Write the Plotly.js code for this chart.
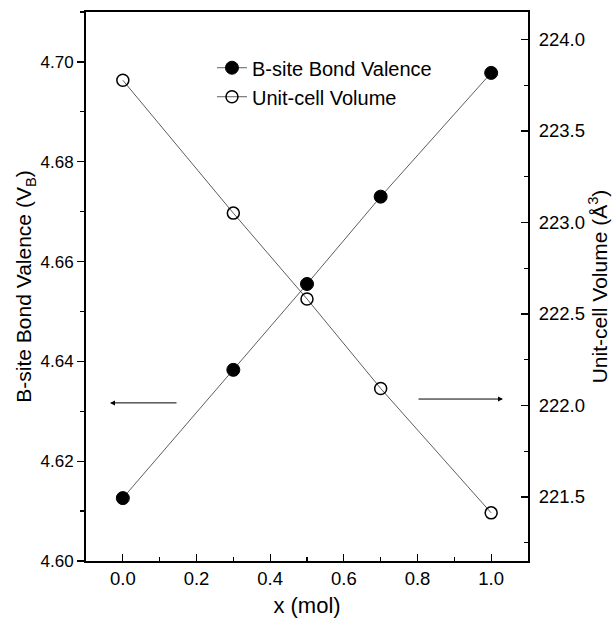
<!DOCTYPE html>
<html><head><meta charset="utf-8">
<script src="https://cdn.plot.ly/plotly-3.0.1.min.js"></script>
<style>html,body{margin:0;padding:0;background:#fff}</style>
</head><body>
<div id="chart" style="width:616px;height:618px"></div>
<script>
const xMol = [0.0, 0.3, 0.5, 0.7, 1.0];
const bondValence = [4.6126, 4.6383, 4.6555, 4.6730, 4.6978];
const cellVolume = [223.777, 223.051, 222.582, 222.093, 221.413];
const seriesNames = ["B-site Bond Valence", "Unit-cell Volume"];

const font = "Liberation Sans, Arial, sans-serif";
const traces = [
  {x: xMol, y: bondValence, name: seriesNames[0], type: "scatter", mode: "lines+markers",
   line: {color: "#333", width: 0.8},
   marker: {symbol: "circle", size: 13, color: "#000", line: {color: "#000", width: 1}}},
  {x: xMol, y: cellVolume, name: seriesNames[1], type: "scatter", mode: "lines+markers", yaxis: "y2",
   line: {color: "#333", width: 0.8},
   marker: {symbol: "circle-open", size: 12, color: "#000", line: {color: "#000", width: 1.5}}}
];
const layout = {
  width: 616, height: 618,
  margin: {l: 86, r: 88, t: 12, b: 57},
  paper_bgcolor: "#fff", plot_bgcolor: "#fff",
  font: {family: font, color: "#000"},
  showlegend: true,
  legend: {x: 0.285, y: 0.934, xanchor: "left", yanchor: "top", bgcolor: "rgba(0,0,0,0)",
           font: {family: font, size: 20, color: "#000"}, tracegroupgap: 0},
  xaxis: {range: [-0.1, 1.1], dtick: 0.2, tick0: 0, tickformat: ".1f",
          showgrid: false, zeroline: false, showline: true, linecolor: "#000", linewidth: 2, mirror: true,
          ticks: "inside", ticklen: 7, tickwidth: 1.3, tickcolor: "#000",
          minor: {dtick: 0.1, tick0: 0, ticks: "inside", ticklen: 4, tickwidth: 1.3, tickcolor: "#000", showgrid: false},
          tickfont: {size: 18.5, family: font},
          title: {text: "x (mol)", font: {size: 22, family: font}, standoff: 11}},
  yaxis: {range: [4.60, 4.71], dtick: 0.02, tick0: 4.60, tickformat: ".2f",
          showgrid: false, zeroline: false, showline: true, linecolor: "#000", linewidth: 2,
          ticks: "outside", ticklen: 7, tickwidth: 1.3, tickcolor: "#000",
          minor: {dtick: 0.01, tick0: 4.60, ticks: "outside", ticklen: 4, tickwidth: 1.3, tickcolor: "#000", showgrid: false},
          tickfont: {size: 17, family: font},
          title: {text: "B-site Bond Valence (V<sub>B</sub>)", font: {size: 21, family: font}, standoff: 3}},
  yaxis2: {overlaying: "y", side: "right", range: [221.15, 224.15], dtick: 0.5, tick0: 221.5, tickformat: ".1f",
          showgrid: false, zeroline: false, showline: true, linecolor: "#000", linewidth: 2,
          ticks: "inside", ticklen: 7, tickwidth: 1.3, tickcolor: "#000", ticklabelstandoff: 5,
          minor: {dtick: 0.25, tick0: 221.5, ticks: "inside", ticklen: 4, tickwidth: 1.3, tickcolor: "#000", showgrid: false},
          tickfont: {size: 18.5, family: font},
          title: {text: "Unit-cell Volume (Å<sup>3</sup>)", font: {size: 21, family: font}, standoff: 5}},
  annotations: [
    {xref: "paper", yref: "paper", x: 0.0543, y: 0.288, ax: 68, ay: 0, text: "", showarrow: true,
     arrowhead: 2, arrowsize: 1, arrowwidth: 1, arrowcolor: "#000", standoff: 0},
    {xref: "paper", yref: "paper", x: 0.9434, y: 0.295, ax: -86, ay: 0, text: "", showarrow: true,
     arrowhead: 2, arrowsize: 1, arrowwidth: 1, arrowcolor: "#000", standoff: 0}
  ]
};
Plotly.newPlot("chart", traces, layout, {displayModeBar: false, staticPlot: true});
</script>
</body></html>
